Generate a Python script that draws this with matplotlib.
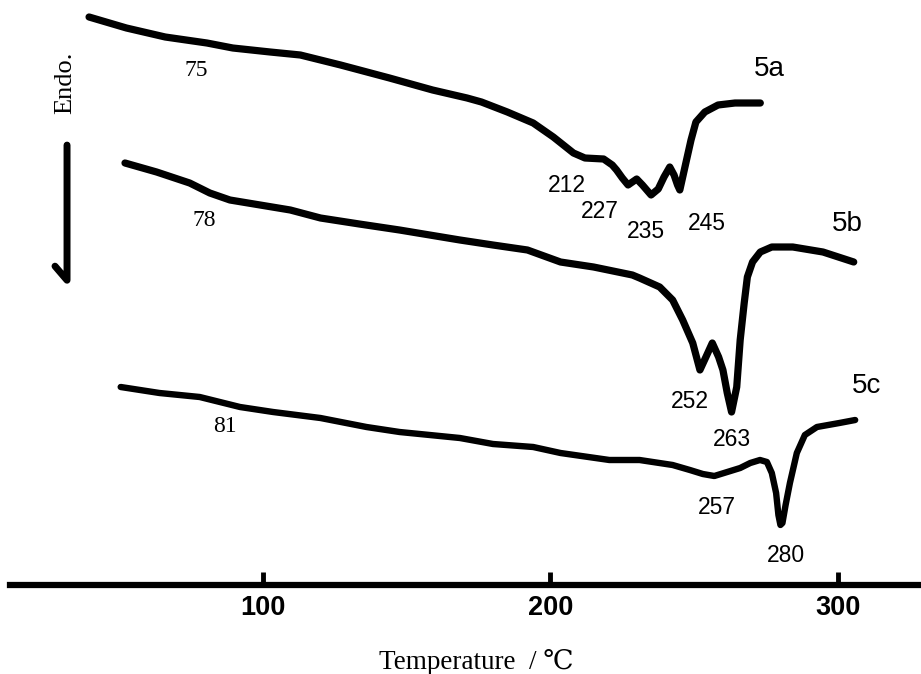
"""DSC heating traces of samples 5a, 5b and 5c."""

import matplotlib.pyplot as plt
from matplotlib import font_manager

# temperature (deg C) and heat flow (arbitrary units, traces offset vertically)
t_5a = [39.5, 52.5, 66, 80.5, 89.5, 102.5, 113, 127, 144, 159, 171, 176, 185,
        194, 201, 204.5, 208, 212, 218.5, 221.5, 223, 225, 227, 230, 232, 235,
        237.5, 239.5, 241.5, 243, 244.2, 245, 247.1, 248.9, 250.6, 253.7,
        258.3, 264.2, 273]
q_5a = [568, 557, 548, 542, 537, 533, 530, 520, 507, 495, 487, 483, 473,
        462, 448, 440, 432, 427, 426, 420, 415, 407, 400, 406, 400, 390,
        396, 408, 418, 410, 400, 395, 422, 445, 463, 473,
        480, 482, 482]

t_5b = [52, 63, 74.5, 81.5, 88.5, 99, 109.5, 120, 133.5, 147.5, 168.5, 180,
        192, 203.5, 215, 228.5, 231, 238, 242.5, 246, 249.5, 252, 254.4,
        256.3, 258.5, 260, 261.5, 263, 264.8, 266, 267.4, 268.5, 270.3, 273,
        277, 284.3, 294.8, 305.5]
q_5b = [422, 413, 402, 392, 385, 380, 375, 367, 361, 355, 345, 340,
        335, 323, 318, 310, 307, 298, 285, 265, 242, 215, 230,
        242, 228, 215, 192, 173, 198, 245, 282, 308, 323, 333,
        338, 338, 333, 323]

t_5c = [50.5, 64, 78, 85, 92, 103.5, 120, 136, 147.5, 168.5, 180, 194, 203.5,
        220.5, 231, 242.5, 248.5, 253, 257, 261.5, 266, 269.5, 272.9, 275.3,
        277, 278.5, 279.3, 280, 280.7, 281.8, 283.3, 285.7, 288.5, 292.7,
        300.5, 306]
q_5c = [198, 192, 188, 183, 178, 173, 167, 158, 153, 147, 141, 138, 132,
        125, 125, 120, 115, 111, 109, 113, 117, 122, 125, 123,
        112, 92, 70, 60, 62, 80, 102, 132, 150, 158,
        162, 165]

traces = [(t_5a, q_5a, 5.2), (t_5b, q_5b, 5.2), (t_5c, q_5c, 4.6)]

# sample names and peak temperatures with their label positions
names = ["5a", "5b", "5c"]
name_xy = [(276.3, 516), (303.1, 361), (310.1, 199)]

tg_labels = ["75", "78", "81"]
tg_xy = [(76.7, 515), (79.5, 364), (86.8, 158)]

peak_labels = ["212", "227", "235", "245", "252", "263", "257", "280"]
peak_xy = [(205.7, 400), (217.2, 374), (233.2, 354), (254.4, 361),
           (248.5, 184), (263.1, 145), (257.9, 78), (281.9, 30)]

ticks = [100, 200, 300]

serif = ["Liberation Serif", "DejaVu Serif"]
sans = ["Liberation Sans", "DejaVu Sans"]

available = {f.name for f in font_manager.fontManager.ttflist}
if "Liberation Sans Narrow" in available:
    tick_family, tick_size = ["Liberation Sans Narrow", "Liberation Sans"], 23
else:
    tick_family, tick_size = sans, 19.5

fig = plt.figure(figsize=(9.21, 6.74), dpi=100)
ax = fig.add_axes([10 / 921, 89 / 674, 911 / 921, 585 / 674])
ax.set_xlim(12, 328.9)
ax.set_ylim(0, 585)

for t, q, lw in traces:
    ax.plot(t, q, color="black", lw=lw, solid_joinstyle="round",
            solid_capstyle="round")

for name, (x, y) in zip(names, name_xy):
    ax.text(x, y, name, family=sans, fontsize=20, ha="center", va="center")
for lab, (x, y) in zip(tg_labels, tg_xy):
    ax.text(x, y, lab, family=serif, fontsize=17, ha="center", va="center")
for lab, (x, y) in zip(peak_labels, peak_xy):
    ax.text(x, y, lab, family=sans, fontsize=16.5, ha="center", va="center")

for side in ["left", "right", "top"]:
    ax.spines[side].set_visible(False)
ax.spines["bottom"].set_linewidth(4.5)
ax.set_yticks([])
ax.set_xticks(ticks)
ax.tick_params(axis="x", direction="in", length=9.5, width=3.5, pad=7)
for lab in ax.get_xticklabels():
    lab.set_family(tick_family)
    lab.set_fontsize(tick_size)
    lab.set_fontweight("bold")

ax.set_xlabel("Temperature  / ℃", family=serif, fontsize=19.5)
ax.xaxis.set_label_coords(0.5115, -0.1316)
ax.xaxis.label.set_va("center")

# endothermic direction marker
ax.text(0.0604, 0.858, "Endo.", transform=ax.transAxes, rotation=90,
        family=serif, fontsize=19, ha="center", va="center")
ax.plot([0.0494, 0.0626, 0.0626], [0.545, 0.521, 0.752], transform=ax.transAxes,
        color="black", lw=5, solid_capstyle="round", solid_joinstyle="round",
        clip_on=False)

fig.savefig("out.png", dpi=100)
